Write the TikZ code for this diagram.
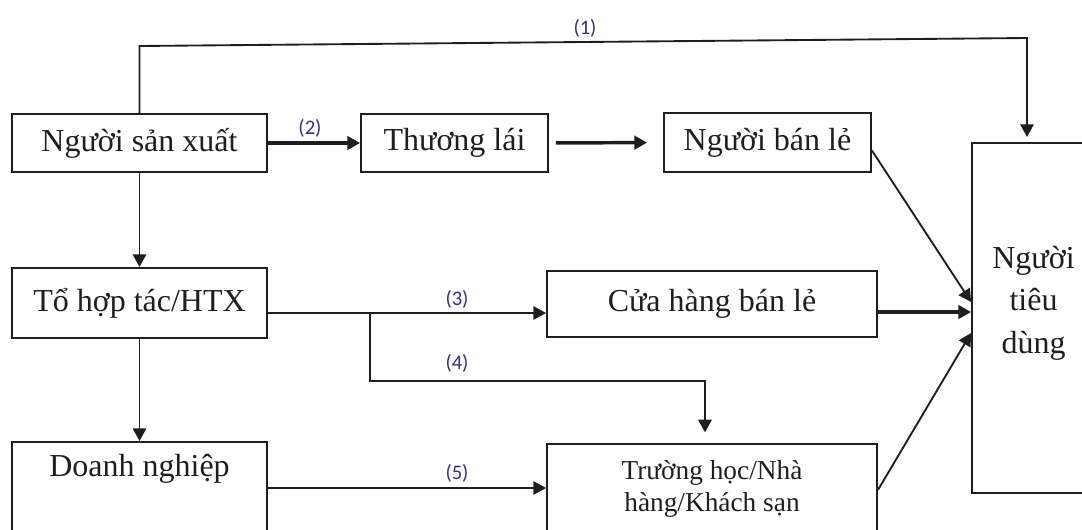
\documentclass[tikz,border=0pt]{standalone}
\usepackage{fontspec}
\setmainfont{Liberation Serif}
\newfontfamily\lblfont{Carlito}
\usetikzlibrary{arrows.meta,calc}
\definecolor{labelc}{HTML}{3B2A85}
\definecolor{linec}{HTML}{1E1E1E}
\begin{document}
\begin{tikzpicture}[x=0.75pt,y=-0.75pt,
  boxfont/.style={font=\fontsize{24}{28}\selectfont, text=linec},
  box/.style={draw=linec, line width=1.4pt, inner sep=0pt, boxfont},
  conn/.style={draw=linec, line width=1.4pt, -{Triangle[length=9.5pt,width=10pt]}},
  thk/.style={conn, line width=2.6pt},
  lbl/.style={font=\lblfont\fontsize{15.5}{17}\selectfont, text=labelc},
]
\useasboundingbox (0,0) rectangle (1082,529);
\clip (0,0) rectangle (1082,529);

% boxes
\node[box, minimum width=191.25pt, minimum height=43.5pt] (nsx) at (139.5,143) {Người sản xuất};
\node[box, minimum width=140.25pt, minimum height=43.5pt] (tl) at (454.5,143) {Thương lái};
\node[box, minimum width=155.25pt, minimum height=44.25pt] (nbl) at (767.5,142.5) {Người bán lẻ};
\node[box, minimum width=191.25pt, minimum height=52.5pt] (thtx) at (139.5,303) {Tổ hợp tác/HTX};
\node[box, minimum width=247.5pt, minimum height=49.5pt] (chbl) at (712,304) {Cửa hàng bán lẻ};
\node[box, minimum width=191.25pt, minimum height=77.25pt,
      label={[boxfont, anchor=center, yshift=-21pt]north:Doanh nghiệp}] (dn) at (139.5,493.5) {};
\node[box, minimum width=247.5pt, minimum height=67.5pt, align=center,
      font=\fontsize{20.5}{24}\selectfont] (th) at (712,489) {Trường học/Nhà\\hàng/Khách sạn};
\node[box, minimum width=92.25pt, minimum height=262.5pt,
      label={[font=\fontsize{24}{32}\selectfont, text=linec, align=center, anchor=center, yshift=11.25pt]center:Người\\tiêu\\dùng}] (ntd) at (1033.5,318) {};

% (1)
\coordinate (c1a) at (139.5,46);
\coordinate (c1b) at (1027,38);
\coordinate (c1c) at (1027,137);
\draw[conn] (nsx.north) -- (c1a) -- (c1b) -- (c1c);
\node[lbl] (l1) at (585,28) {(1)};

% (2)
\draw[thk] (nsx.east) -- (tl.west);
\node[lbl] (l2) at (310,128) {(2)};
\draw[thk, shorten <=5.25pt, shorten >=12pt] (tl.east) -- (nbl.west);
\draw[conn] ($(nbl.east)+(0,8)$) -- ($(ntd.west)+(0,-16)$);

% vertical chain
\draw[conn] (nsx.south) -- (thtx.north);
\draw[conn] (thtx.south) -- (dn.north);

% (3) and (4)
\draw[conn] ($(thtx.east)+(0,10)$) -- ($(chbl.west)+(0,9)$);
\node[lbl] (l3) at (457,299) {(3)};
\coordinate (b4) at (370,313);
\coordinate (b4c) at (370,381);
\draw[conn, shorten >=8pt] (b4) -- (b4c) -| ($(th.north)+(-7,0)$);
\node[lbl] (l4) at (457,363) {(4)};

% (5)
\draw[conn] ($(dn.east)+(0,-5.5)$) -- ($(th.west)+(0,-1)$);
\node[lbl] (l5) at (457,473) {(5)};

% into consumer
\draw[thk] ($(chbl.east)+(0,8)$) -- ($(ntd.west)+(0,-6)$);
\draw[conn] ($(th.east)+(0,1)$) -- ($(ntd.west)+(0,15)$);
\end{tikzpicture}
\end{document}
